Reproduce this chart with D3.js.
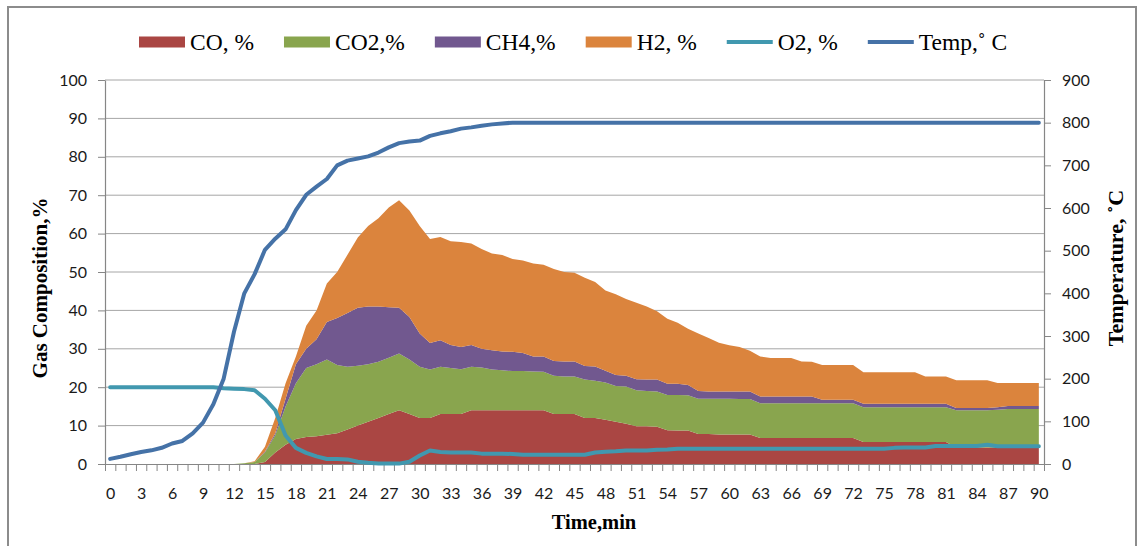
<!DOCTYPE html>
<html>
<head>
<meta charset="utf-8">
<script src="https://cdn.jsdelivr.net/npm/d3@7/dist/d3.min.js"></script>
<style>
  body { margin: 0; background: #fff; }
  .tick text { font-family: Lato, 'Liberation Sans', sans-serif; font-size: 16px; fill: #1a1a1a; }
  .legend text, .title { font-family: 'Liberation Serif', 'Times New Roman', serif; fill: #000; }
</style>
</head>
<body>
<div class="chart"></div>
<script>
// minutes 0..90, labels every 3 min
const minutes = d3.range(0, 91);
const xTickLabels = d3.range(0, 91, 3);
const leftTicks = d3.range(0, 101, 10);
const rightTicks = d3.range(0, 901, 100);

// gas composition, % (stacked)
const coValues = [
  0, 0, 0, 0, 0, 0, 0, 0, 0, 0, 0, 0, 0, 0, 0, 0.5, 3, 5, 6.5, 7,
  7.2, 7.6, 8, 9, 10, 11, 12, 13, 14, 13, 12, 12, 13, 13, 13, 14, 14, 14, 14, 14,
  14, 14, 14, 13, 13, 13, 12, 12, 11.5, 11, 10.5, 9.8, 9.8, 9.7, 8.8, 8.7, 8.7, 7.8, 7.8, 7.7,
  7.7, 7.7, 7.7, 6.8, 6.8, 6.8, 6.8, 6.8, 6.8, 6.8, 6.8, 6.8, 6.8, 5.7, 5.7, 5.7, 5.7, 5.7, 5.7, 5.7,
  5.7, 5.7, 4.3, 4.3, 4.3, 4.3, 4.3, 4.3, 4.3, 4.3, 4.3
];
const co2Values = [
  0, 0, 0, 0, 0, 0, 0, 0, 0, 0, 0, 0, 0, 0.2, 0.5, 2.5, 4.5, 10, 14.5, 18,
  18.8, 19.6, 17.8, 16.3, 15.6, 15, 14.6, 14.7, 14.8, 14.2, 13.3, 12.6, 12.3, 12, 11.7, 11.3, 11.1, 10.6, 10.4, 10.2,
  10.2, 10.1, 10, 10, 9.8, 9.8, 10, 9.7, 9.7, 9.3, 9.7, 9.4, 9.2, 9.2, 9.2, 9.3, 9.2, 9.2, 9.2, 9.3,
  9.3, 9.2, 9.2, 9, 9, 9, 9, 9, 9, 9, 9, 9, 9, 9.1, 9.1, 9.1, 9.1, 9.1, 9.1, 9.1,
  9.1, 9.1, 9.7, 9.7, 9.7, 9.7, 9.8, 10, 10, 10, 10
];
const ch4Values = [
  0, 0, 0, 0, 0, 0, 0, 0, 0, 0, 0, 0, 0, 0, 0, 0.2, 0.5, 2, 5, 5,
  6.5, 9.8, 12.2, 14, 15.1, 15, 14.4, 13.1, 11.9, 11.1, 8.7, 6.9, 6.9, 6, 5.8, 5.7, 4.9, 5, 4.9, 5,
  4.7, 3.9, 4, 3.8, 3.9, 3.9, 3.5, 3.7, 3.1, 2.9, 2.8, 2.9, 3, 3.1, 2.9, 2.9, 2.7, 2, 1.9, 1.9,
  1.9, 2, 2, 1.8, 1.8, 1.8, 1.8, 1.8, 1.8, 0.9, 0.9, 0.9, 0.9, 0.9, 0.9, 0.9, 0.9, 0.9, 0.9, 0.9,
  0.9, 0.9, 0.6, 0.6, 0.6, 0.6, 0.7, 0.8, 0.8, 0.8, 0.8
];
const h2Values = [
  0, 0, 0, 0, 0, 0, 0, 0, 0, 0, 0, 0, 0, 0, 0.2, 1.3, 4, 4, 2, 6,
  7.5, 10, 12, 15.2, 18.3, 21, 23, 26, 28, 27.7, 28, 27.1, 26.9, 27, 27.3, 26.4, 26, 25.2, 25.1, 24.2,
  24.1, 24.2, 23.9, 24, 23.3, 23.1, 23, 22, 20.9, 21, 20, 19.9, 19, 17.8, 16.9, 15.9, 14.6, 15, 13.9, 12.7,
  12, 11.6, 10.6, 10.4, 10, 10, 10, 9.1, 9, 9.1, 9.1, 9.1, 9.1, 8.2, 8.2, 8.2, 8.2, 8.2, 8.2, 7.1,
  7.1, 7.1, 7.2, 7.2, 7.2, 7.2, 6.3, 6, 6, 6, 6
];
// oxygen, % (left axis, line)
const o2Values = [
  20, 20, 20, 20, 20, 20, 20, 20, 20, 20, 20, 19.7, 19.6, 19.5, 19.2, 17, 14, 7.4, 4.2, 2.9,
  2, 1.3, 1.3, 1.2, 0.6, 0.3, 0.1, 0.1, 0.1, 0.6, 2.2, 3.5, 3.1, 3, 3, 3, 2.7, 2.7, 2.7, 2.6,
  2.4, 2.4, 2.4, 2.4, 2.4, 2.4, 2.4, 3, 3.2, 3.3, 3.5, 3.5, 3.5, 3.7, 3.8, 4, 4, 4, 4, 4,
  4, 4, 4, 4, 4, 4, 4, 4, 4, 4, 4, 4, 4, 4, 4, 4, 4.2, 4.3, 4.3, 4.3,
  4.7, 4.7, 4.7, 4.7, 4.7, 5, 4.6, 4.6, 4.6, 4.6, 4.6
];
// temperature, C (right axis, line)
const tempValues = [
  12, 17, 23, 28, 32, 38, 48, 54, 72, 97, 140, 200, 310, 400, 445, 502, 528, 550, 595, 631,
  650, 668, 700, 711, 716, 721, 730, 742, 752, 756, 758, 769, 775, 780, 786, 789, 793, 796, 798, 800,
  800, 800, 800, 800, 800, 800, 800, 800, 800, 800, 800, 800, 800, 800, 800, 800, 800, 800, 800, 800,
  800, 800, 800, 800, 800, 800, 800, 800, 800, 800, 800, 800, 800, 800, 800, 800, 800, 800, 800, 800,
  800, 800, 800, 800, 800, 800, 800, 800, 800, 800, 800
];

const areaKeys = ['co', 'co2', 'ch4', 'h2'];
const legendLabels = ['CO, %', 'CO2,%', 'CH4,%', 'H2, %', 'O2, %', 'Temp,˚ C'];
const colors = ['#AA4643', '#89A54E', '#71588F', '#DB843D', '#4198AF', '#4572A7'];

const width = 1138, height = 546;
const plot = { left: 105, right: 1044, top: 80, bottom: 464 };

const svg = d3.select('.chart').append('svg')
  .attr('width', width)
  .attr('height', height);

// outer frame
svg.append('rect')
  .attr('x', 8).attr('y', 7)
  .attr('width', 1128).attr('height', 560)
  .attr('fill', 'none')
  .attr('stroke', '#8c8c8c')
  .attr('stroke-width', 2);

const x = d3.scaleLinear().domain([-0.5, 90.5]).range([plot.left, plot.right]);
const y = d3.scaleLinear().domain([0, 100]).range([plot.bottom, plot.top]);
const yTemp = d3.scaleLinear().domain([0, 900]).range([plot.bottom, plot.top]);

// gridlines
svg.append('g')
  .selectAll('line')
  .data(leftTicks.slice(1))
  .join('line')
  .attr('x1', plot.left).attr('x2', plot.right)
  .attr('y1', d => y(d)).attr('y2', d => y(d))
  .attr('stroke', '#a6a6a6')
  .attr('stroke-width', 1);

const rows = minutes.map((m, i) => ({
  minute: m, co: coValues[i], co2: co2Values[i], ch4: ch4Values[i], h2: h2Values[i]
}));
const stacked = d3.stack().keys(areaKeys)(rows);

const area = d3.area()
  .x(d => x(d.data.minute))
  .y0(d => y(d[0]))
  .y1(d => y(d[1]));

svg.append('g')
  .selectAll('path')
  .data(stacked)
  .join('path')
  .attr('d', area)
  .attr('fill', (d, i) => colors[i]);

// axes
function styleAxis(g) {
  g.select('.domain').attr('stroke', '#868686').attr('stroke-width', 1.2);
  g.selectAll('.tick line').attr('stroke', '#868686');
}

svg.append('g')
  .attr('transform', `translate(${plot.left},0)`)
  .call(d3.axisLeft(y).tickValues(leftTicks).tickSize(7).tickSizeOuter(0).tickPadding(11))
  .call(styleAxis);

svg.append('g')
  .attr('transform', `translate(${plot.right},0)`)
  .call(d3.axisRight(yTemp).tickValues(rightTicks).tickSize(7).tickSizeOuter(0).tickPadding(11))
  .call(styleAxis);

svg.append('g')
  .attr('transform', `translate(0,${plot.bottom})`)
  .call(d3.axisBottom(x).tickValues(d3.range(-0.5, 91, 1)).tickFormat('').tickSize(7).tickSizeOuter(0))
  .call(styleAxis);

svg.append('g')
  .attr('transform', `translate(0,${plot.bottom})`)
  .call(d3.axisBottom(x).tickValues(xTickLabels).tickSize(0).tickPadding(24))
  .call(g => g.select('.domain').remove());

// lines
const o2Line = d3.line()
  .x((d, i) => x(minutes[i]))
  .y(d => y(d));

const tempLine = d3.line()
  .x((d, i) => x(minutes[i]))
  .y(d => yTemp(d));

svg.append('path')
  .datum(o2Values)
  .attr('d', o2Line)
  .attr('fill', 'none')
  .attr('stroke', colors[4])
  .attr('stroke-width', 4)
  .attr('stroke-linejoin', 'round')
  .attr('stroke-linecap', 'round');

svg.append('path')
  .datum(tempValues)
  .attr('d', tempLine)
  .attr('fill', 'none')
  .attr('stroke', colors[5])
  .attr('stroke-width', 4)
  .attr('stroke-linejoin', 'round')
  .attr('stroke-linecap', 'round');

// axis titles
svg.append('text')
  .attr('class', 'title')
  .attr('transform', 'translate(47,288) rotate(-90)')
  .attr('text-anchor', 'middle')
  .style('font-size', '21px')
  .style('font-weight', 'bold')
  .text('Gas Composition,%');

svg.append('text')
  .attr('class', 'title')
  .attr('transform', 'translate(1123,268) rotate(-90)')
  .attr('text-anchor', 'middle')
  .style('font-size', '22px')
  .style('font-weight', 'bold')
  .text('Temperature, ˚C');

svg.append('text')
  .attr('class', 'title')
  .attr('x', 594)
  .attr('y', 529)
  .attr('text-anchor', 'middle')
  .style('font-size', '20.5px')
  .style('font-weight', 'bold')
  .text('Time,min');

// legend
const legend = svg.append('g').attr('class', 'legend');
let lx = 139;
legendLabels.forEach((label, i) => {
  if (i < 4) {
    legend.append('rect')
      .attr('x', lx).attr('y', 36.5)
      .attr('width', 46).attr('height', 11)
      .attr('fill', colors[i]);
  } else {
    legend.append('line')
      .attr('x1', lx).attr('x2', lx + 46)
      .attr('y1', 42).attr('y2', 42)
      .attr('stroke', colors[i])
      .attr('stroke-width', 4);
  }
  const t = legend.append('text')
    .attr('x', lx + 51)
    .attr('y', 50)
    .style('font-size', '23.5px')
    .text(label);
  lx += 51 + t.node().getComputedTextLength() + 30;
});
</script>
</body>
</html>
